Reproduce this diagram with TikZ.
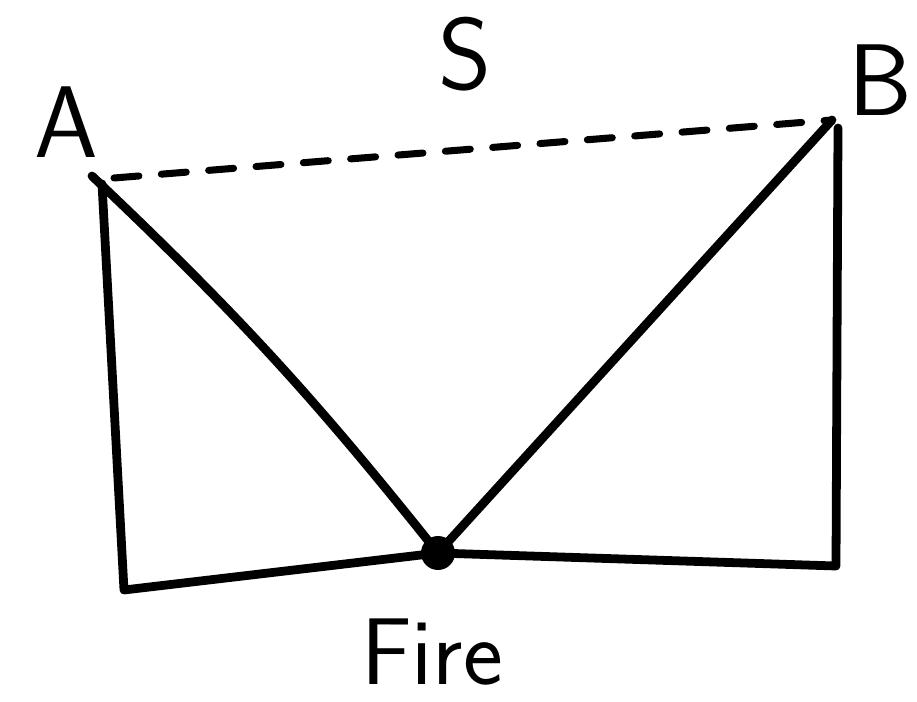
\documentclass[tikz,border=0pt]{standalone}
\usepackage{fontspec}
\usepackage{tikz}
\usetikzlibrary{positioning,calc}

\begin{document}
\begin{tikzpicture}[x=0.02cm,y=-0.02cm,line cap=round,line join=round,
  pen/.style={line width=5pt},
  lbl/.style={font=\sffamily\fontsize{58}{58}\selectfont,inner sep=0pt},
  dot/.style={circle,fill,inner sep=0pt,minimum size=0.68cm}]
\useasboundingbox (0,0) rectangle (917,702);
% corners of the sketch
\coordinate (a) at (92,176);
\coordinate (b) at (832,120);
\coordinate (al) at (102,184);
\coordinate (bl) at (124,590);
\coordinate (br) at (836,566);
\coordinate (ar) at (838,128);
\node[dot] (fire) at (438,553) {};
% labels
\node[lbl] (alab) at (66,122) {A};
\node[lbl] (blab) at (880,80) {B};
\node[lbl] (slab) at (465,54) {S};
\node[lbl,font=\sffamily\fontsize{54}{54}\selectfont] (flab) at (432,652) {Fire};
% walls and ground
\draw[pen] (al) -- (bl) -- (fire.center) -- (br) -- (ar);
% the two paths
\draw[pen] (a) to[bend left=4] (fire.center);
\draw[pen] (b) -- (fire.center);
\draw[pen,line width=4pt,dash pattern=on 0.5cm off 0.45cm] ($(a)+(22,2)$) -- (b);
\end{tikzpicture}
\end{document}
